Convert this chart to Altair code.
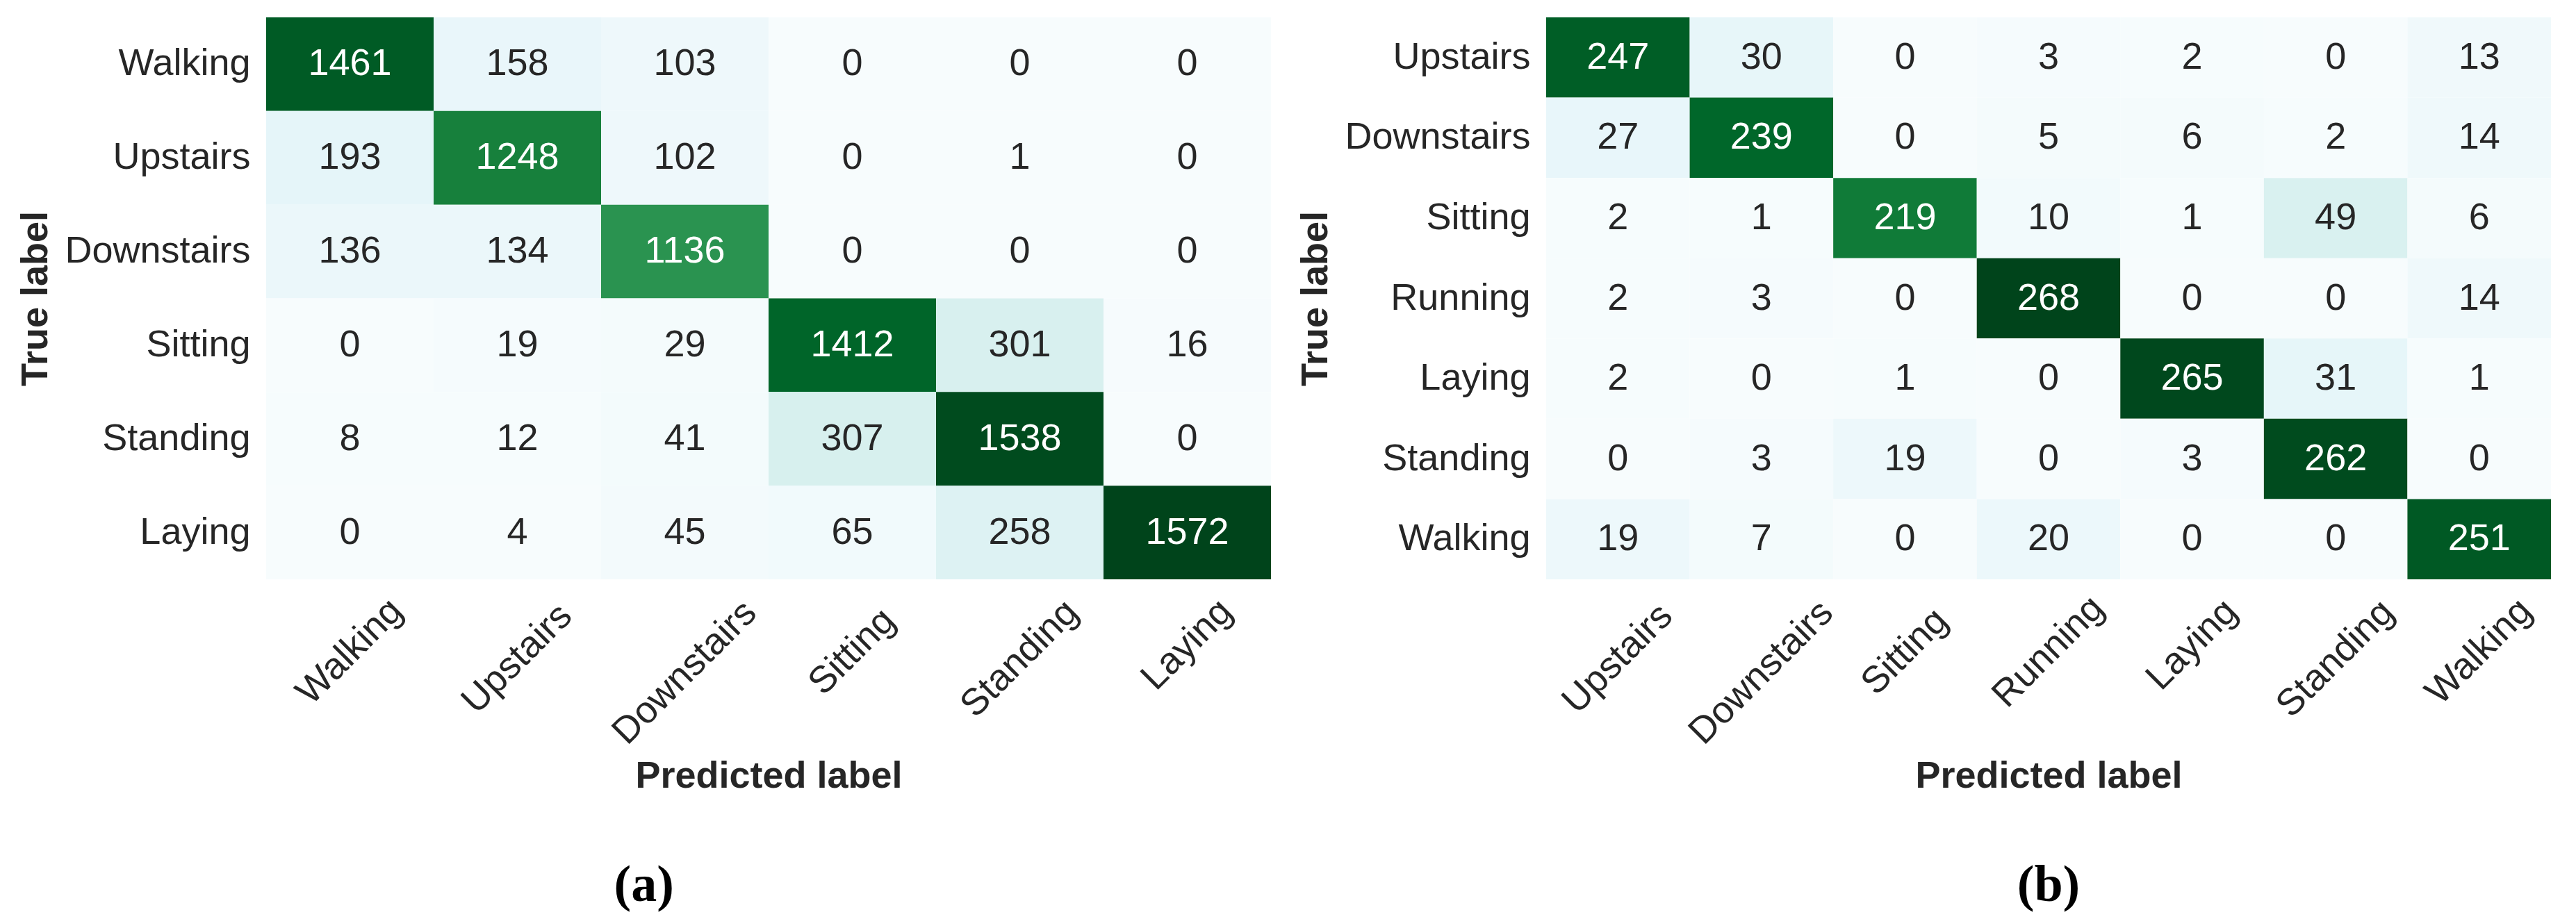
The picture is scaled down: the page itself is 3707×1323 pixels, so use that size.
import altair as alt
import pandas as pd

# ---------------- data ----------------
labels_a = ["Walking", "Upstairs", "Downstairs", "Sitting", "Standing", "Laying"]
row_a_walking = [1461, 158, 103, 0, 0, 0]
row_a_upstairs = [193, 1248, 102, 0, 1, 0]
row_a_downstairs = [136, 134, 1136, 0, 0, 0]
row_a_sitting = [0, 19, 29, 1412, 301, 16]
row_a_standing = [8, 12, 41, 307, 1538, 0]
row_a_laying = [0, 4, 45, 65, 258, 1572]
cm_a = [row_a_walking, row_a_upstairs, row_a_downstairs,
        row_a_sitting, row_a_standing, row_a_laying]

labels_b = ["Upstairs", "Downstairs", "Sitting", "Running", "Laying", "Standing", "Walking"]
row_b_upstairs = [247, 30, 0, 3, 2, 0, 13]
row_b_downstairs = [27, 239, 0, 5, 6, 2, 14]
row_b_sitting = [2, 1, 219, 10, 1, 49, 6]
row_b_running = [2, 3, 0, 268, 0, 0, 14]
row_b_laying = [2, 0, 1, 0, 265, 31, 1]
row_b_standing = [0, 3, 19, 0, 3, 262, 0]
row_b_walking = [19, 7, 0, 20, 0, 0, 251]
cm_b = [row_b_upstairs, row_b_downstairs, row_b_sitting, row_b_running,
        row_b_laying, row_b_standing, row_b_walking]

# ---------------- style ----------------
BUGN = ["#f7fcfd", "#e5f5f9", "#ccece6", "#99d8c9", "#66c2a4",
        "#41ae76", "#238b45", "#006d2c", "#00441b"]
DARK = "#262626"
SANS = "Liberation Sans"
SERIF = "Liberation Serif"
FS = 54
W, H = 1446, 809


def heatmap(labels, cm, caption, frame):
    rows = []
    for i, t in enumerate(labels):
        for j, p in enumerate(labels):
            rows.append({"true": t, "pred": p, "v": cm[i][j]})
    df = pd.DataFrame(rows)
    vmax = max(max(r) for r in cm)
    domain = [vmax * k / 8 for k in range(9)]

    xaxis = alt.Axis(
        labelAngle=-45, labelAlign="center", labelBaseline="middle",
        labelPadding={"expr": "34 + 10*length(datum.label)"},
        labelFont=SANS, labelFontSize=FS, labelColor=DARK, labelLimit=0,
        labelOverlap=False, ticks=False, tickSize=0, domain=False, grid=False,
        titleFont=SANS, titleFontSize=FS, titleFontWeight="bold",
        titleColor=DARK, titleX=W / 2, titleY=256,
    )
    yaxis = alt.Axis(
        labelAngle=0, labelFont=SANS, labelFontSize=FS, labelColor=DARK,
        labelPadding=23, labelLimit=0, labelOverlap=False,
        ticks=False, tickSize=0, domain=False, grid=False,
        titleFont=SANS, titleFontSize=FS, titleFontWeight="bold",
        titleColor=DARK, titleX=-304.5, titleY=H / 2,
    )
    base = alt.Chart(df).encode(
        x=alt.X("pred:N", sort=labels, title="Predicted label", axis=xaxis,
                scale=alt.Scale(paddingInner=0, paddingOuter=0)),
        y=alt.Y("true:N", sort=labels, title="True label", axis=yaxis,
                scale=alt.Scale(paddingInner=0, paddingOuter=0)),
    )
    rect = base.mark_rect().encode(
        color=alt.Color("v:Q", scale=alt.Scale(domain=domain, range=BUGN,
                                               interpolate="rgb"),
                        legend=None)
    )
    text = base.mark_text(font=SANS, fontSize=FS, align="center",
                          baseline="middle").encode(
        text=alt.Text("v:Q", format="d"),
        color=alt.when(alt.datum.v > 0.55 * vmax)
        .then(alt.value("white"))
        .otherwise(alt.value(DARK)),
    )
    return alt.layer(rect, text).properties(
        width=W, height=H,
        title=alt.TitleParams(
            text=caption, orient="bottom", anchor="middle", frame=frame,
            font=SERIF, fontSize=74, fontWeight="bold", color="black",
            offset=95,
        ),
    )


left = heatmap(labels_a, cm_a, "(a)", "bounds")
right = heatmap(labels_b, cm_b, "(b)", "group")

chart = (
    alt.hconcat(left, right, spacing=37)
    .resolve_scale(color="independent")
    .properties(padding={"left": 16, "top": 17, "right": 5, "bottom": 5},
                background="white")
    .configure_view(stroke=None)
)

chart.save("out.html", embed_options={"renderer": "svg", "actions": False})
